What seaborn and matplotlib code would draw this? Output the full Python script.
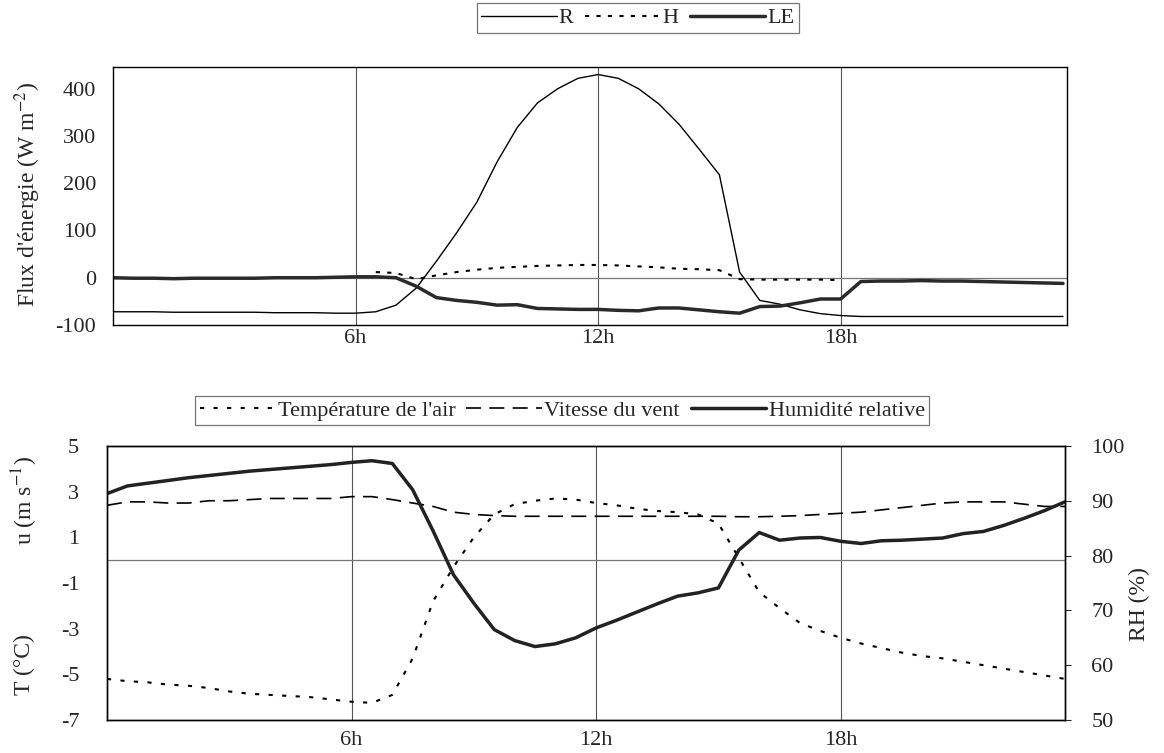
import numpy as np
import matplotlib
matplotlib.use("Agg")
import matplotlib.pyplot as plt
import seaborn as sns

# ----------------------------
# data (half-hourly, 0h -> 23h30)
# ----------------------------
heures = np.arange(0, 24, 0.5)

R = [-72, -72, -72, -73, -73, -73, -73, -73, -74, -74, -74, -75,
     -75, -72, -58, -22, 35, 95, 160, 245, 318, 370, 400, 422,
     430, 422, 400, 368, 325, 272, 218, 12, -48, -56, -68, -76,
     -80, -82, -82, -82, -82, -82, -82, -82, -82, -82, -82, -82]

H = [np.nan] * 13 + [12, 10, -3, 5, 12, 17, 21, 23, 25, 26, 27,
     27, 26, 24, 22, 19, 18, 16, -3, -4, -4, -4, -4, -5] + [np.nan] * 11

LE = [0, -1, -1, -2, -1, -1, -1, -1, 0, 0, 0, 1,
      2, 2, 0, -18, -42, -48, -52, -58, -57, -65, -66, -67,
      -67, -69, -70, -64, -64, -68, -72, -75, -61, -60, -53, -45,
      -45, -8, -7, -7, -6, -7, -7, -8, -9, -10, -11, -12]

T_air = [-5.2, -5.3, -5.35, -5.45, -5.5, -5.6, -5.75, -5.85, -5.9, -5.95, -6.0, -6.1,
         -6.2, -6.25, -5.9, -4.3, -1.8, -0.3, 1.0, 2.0, 2.45, 2.6, 2.7, 2.65,
         2.5, 2.4, 2.25, 2.15, 2.1, 2.0, 1.6, 0.1, -1.4, -2.1, -2.75, -3.1,
         -3.4, -3.65, -3.85, -4.05, -4.2, -4.3, -4.45, -4.6, -4.75, -4.9, -5.05, -5.2]

u_vent = [2.4, 2.55, 2.55, 2.5, 2.5, 2.6, 2.6, 2.65, 2.7, 2.7, 2.7, 2.7,
          2.78, 2.78, 2.65, 2.5, 2.35, 2.1, 2.0, 1.95, 1.92, 1.92, 1.92, 1.92,
          1.92, 1.92, 1.92, 1.92, 1.92, 1.92, 1.92, 1.9, 1.9, 1.92, 1.95, 2.0,
          2.05, 2.1, 2.2, 2.3, 2.4, 2.5, 2.55, 2.55, 2.55, 2.45, 2.35, 2.35]

RH = [91.3, 92.7, 93.2, 93.7, 94.2, 94.6, 95.0, 95.4, 95.7, 96.0, 96.3, 96.6,
      97.0, 97.3, 96.8, 92.0, 84.5, 76.5, 71.3, 66.5, 64.5, 63.4, 63.9, 65.0,
      66.8, 68.2, 69.7, 71.2, 72.6, 73.2, 74.1, 81.0, 84.2, 82.8, 83.2, 83.3,
      82.6, 82.2, 82.7, 82.8, 83.0, 83.2, 84.0, 84.4, 85.5, 86.8, 88.2, 89.8]

ticks_h = [6, 12, 18]
labels_h = ["6h", "12h", "18h"]

# ----------------------------
# style
# ----------------------------
sns.set_style("white")
plt.rcParams['font.family'] = ['Liberation Serif', 'DejaVu Serif']
plt.rcParams['mathtext.fontset'] = 'stix'
fs = 16
fs_lab = 17

fig = plt.figure(figsize=(11.64, 7.53), dpi=100)
ax1 = fig.add_axes([0.0971, 0.5684, 0.8196, 0.342])
ax2 = fig.add_axes([0.0919, 0.0438, 0.823, 0.3640])
ax3 = ax2.twinx()

# ----------------------------
# graphique du haut : flux
# ----------------------------
sns.lineplot(x=heures, y=R, ax=ax1, color='black', lw=1.0, label='R')
sns.lineplot(x=heures, y=H, ax=ax1, color='black', lw=1.5, linestyle=(0, (2, 3.5)), label='H')
sns.lineplot(x=heures, y=LE, ax=ax1, color='#2a2a2a', lw=2.5, label='LE')

ax1.set_xlim(0, 23.6)
ax1.set_ylim(-100, 445)
ax1.set_yticks(range(-100, 401, 100))
ax1.set_yticklabels([str(v) for v in range(-100, 401, 100)])
ax1.set_xticks(ticks_h)
ax1.set_xticklabels(labels_h)
ax1.tick_params(axis='both', labelsize=fs, length=0)
ax1.tick_params(axis='y', pad=12)
ax1.tick_params(axis='x', pad=3)
for x in ticks_h:
    ax1.axvline(x, color='#555555', lw=0.8, zorder=0)
ax1.axhline(0, color='#777777', lw=0.9, zorder=0)
for s in ax1.spines.values():
    s.set_color('black')
    s.set_linewidth(1.0)
ax1.set_ylabel('')
fig.text(0.024, 0.742, "Flux d'énergie (W m$^{-2}$)", rotation=90, ha='center', va='center', fontsize=fs_lab)

leg1 = ax1.legend(loc='center', bbox_to_anchor=(0.548, 0.976), bbox_transform=fig.transFigure,
                  ncol=3, frameon=True, fancybox=False, fontsize=fs, handlelength=3.4,
                  handletextpad=0.1, columnspacing=0.5, borderpad=0.2)
leg1.get_frame().set_edgecolor('#555555')
leg1.get_frame().set_linewidth(0.9)

# ----------------------------
# graphique du bas : T, u, RH
# ----------------------------
sns.lineplot(x=heures, y=T_air, ax=ax2, color='black', lw=1.5, linestyle=(0, (2, 4.5)),
             label="Température de l'air")
sns.lineplot(x=heures, y=u_vent, ax=ax2, color='black', lw=1.2, linestyle=(0, (9, 5)),
             label='Vitesse du vent')
sns.lineplot(x=heures, y=RH, ax=ax3, color='#222222', lw=2.5, label='Humidité relative')

ax2.set_xlim(0, 23.5)
ax2.set_ylim(-7, 5)
ax2.set_yticks(range(-7, 6, 2))
ax2.set_yticklabels([str(v) for v in range(-7, 6, 2)])
ax3.set_ylim(50, 100)
ax3.set_yticks(range(50, 101, 10))
ax2.set_xticks(ticks_h)
ax2.set_xticklabels(labels_h)
ax2.tick_params(axis='both', labelsize=fs, length=0)
ax2.tick_params(axis='y', pad=20)
ax2.tick_params(axis='x', pad=8)
ax3.tick_params(axis='y', labelsize=fs, length=4, direction='out', pad=15)
for x in ticks_h:
    ax2.axvline(x, color='#555555', lw=0.8, zorder=0)
ax2.axhline(0, color='#777777', lw=0.9, zorder=0)
for a in (ax2, ax3):
    for s in a.spines.values():
        s.set_color('black')
        s.set_linewidth(1.0)
ax2.set_ylabel('')
ax3.set_ylabel('')
fig.text(0.021, 0.335, "u (m s$^{-1}$)", rotation=90, ha='center', va='center', fontsize=fs_lab)
fig.text(0.021, 0.117, "T (°C)", rotation=90, ha='center', va='center', fontsize=fs_lab)
fig.text(0.979, 0.198, "RH (%)", rotation=90, ha='center', va='center', fontsize=fs_lab)

h2, l2 = ax2.get_legend_handles_labels()
h3, l3 = ax3.get_legend_handles_labels()
ax3.get_legend().remove()
leg2 = ax2.legend(h2 + h3, l2 + l3, loc='center', bbox_to_anchor=(0.483, 0.455),
                  bbox_transform=fig.transFigure, ncol=3, frameon=True, fancybox=False,
                  fontsize=fs, handlelength=3.4, handletextpad=0.1, columnspacing=0.5,
                  borderpad=0.2)
leg2.get_frame().set_edgecolor('#555555')
leg2.get_frame().set_linewidth(0.9)

fig.savefig('out.png', dpi=100)
